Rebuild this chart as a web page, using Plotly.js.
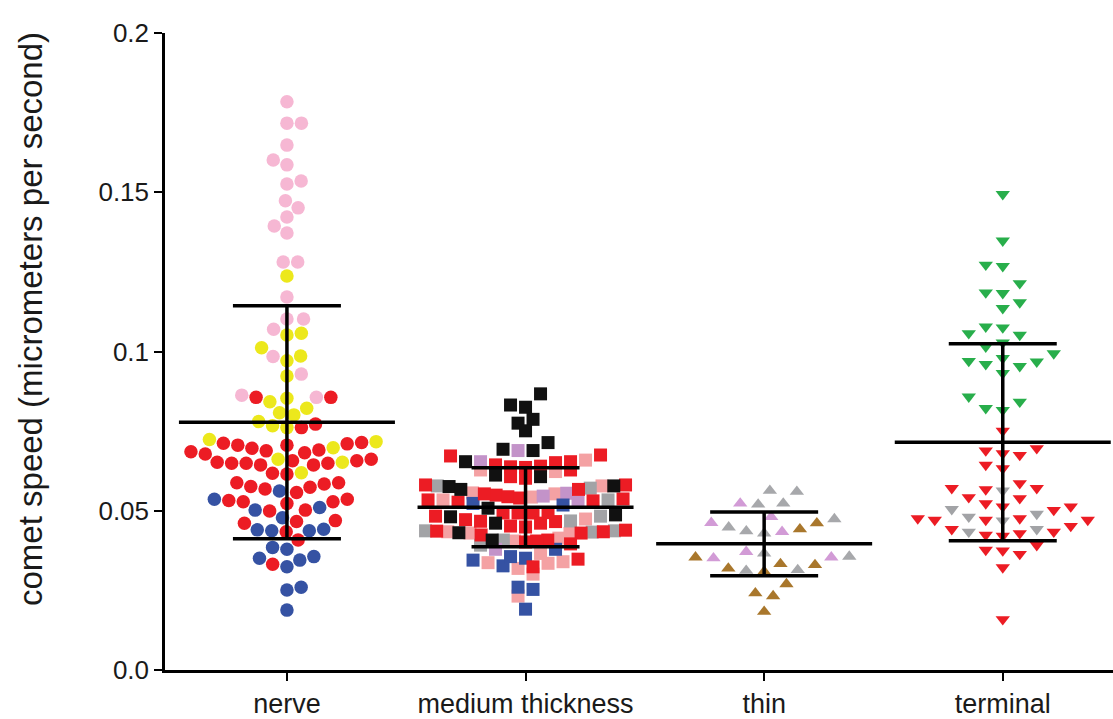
<!DOCTYPE html>
<html><head><meta charset="utf-8">
<script src="https://cdn.plot.ly/plotly-3.0.1.min.js"></script>
<style>html,body{margin:0;padding:0;background:#fff}#chart{width:1113px;height:719px}</style>
</head><body><div id="chart"></div>
<script>
const categories = ['nerve', 'medium thickness', 'thin', 'terminal'];
const yTickVals = [0, 0.05, 0.1, 0.15, 0.2];
const yTickText = ['0.0', '0.05', '0.1', '0.15', '0.2'];
const yTitle = 'comet speed (micrometers per second)';

// nerve (circles)
const nervePink = [0.1784, 0.1717, 0.1717, 0.1648, 0.1601, 0.1586, 0.1535, 0.1526, 0.1473, 0.1451, 0.1422, 0.1394, 0.1372, 0.1281, 0.1281, 0.1171, 0.1102, 0.1102, 0.1070, 0.0984, 0.0929, 0.0856, 0.0863];
const nerveYellow = [0.1237, 0.1057, 0.1052, 0.1012, 0.0986, 0.0971, 0.0923, 0.0842, 0.0853, 0.0808, 0.0822, 0.0780, 0.0801, 0.0761, 0.0767, 0.0724, 0.0717, 0.0698, 0.0652, 0.0662, 0.0619];
const nerveRed = [0.0856, 0.0856, 0.0772, 0.0761, 0.0712, 0.0710, 0.0706, 0.0706, 0.0714, 0.0691, 0.0685, 0.0678, 0.0682, 0.0688, 0.0696, 0.0644, 0.0662, 0.0657, 0.0649, 0.0649, 0.0649, 0.0652, 0.0657, 0.0644, 0.0618, 0.0615, 0.0588, 0.0588, 0.0584, 0.0574, 0.0568, 0.0576, 0.0557, 0.0532, 0.0528, 0.0523, 0.0528, 0.0536, 0.0502, 0.0499, 0.0469, 0.0461, 0.0466, 0.0434, 0.0408, 0.0332];
const nerveBlue = [0.0562, 0.0536, 0.0502, 0.0510, 0.0478, 0.0440, 0.0437, 0.0437, 0.0442, 0.0385, 0.0379, 0.0356, 0.0345, 0.0324, 0.0351, 0.0260, 0.0251, 0.0188];

// medium thickness (squares)
const medBlack = [0.0867, 0.0832, 0.0825, 0.0787, 0.0775, 0.0751, 0.0714, 0.0693, 0.0689, 0.0654, 0.0612, 0.0607, 0.0578, 0.0576, 0.0567, 0.0508, 0.0461, 0.0481, 0.0487, 0.0408, 0.0431];
const medRed = [0.0672, 0.0654, 0.0644, 0.0638, 0.0636, 0.0640, 0.0651, 0.0675, 0.0628, 0.0607, 0.0602, 0.0581, 0.0567, 0.0581, 0.0549, 0.0544, 0.0540, 0.0534, 0.0527, 0.0531, 0.0537, 0.0553, 0.0493, 0.0493, 0.0472, 0.0466, 0.0461, 0.0452, 0.0449, 0.0483, 0.0467, 0.0493, 0.0494, 0.0439, 0.0430, 0.0408, 0.0405, 0.0436, 0.0424, 0.0434, 0.0402, 0.0396, 0.0324, 0.0348];
const medPink = [0.0659, 0.0578, 0.0623, 0.0628, 0.0553, 0.0534, 0.0543, 0.0556, 0.0474, 0.0434, 0.0414, 0.0405, 0.0430, 0.0429, 0.0366, 0.0337, 0.0319, 0.0335, 0.0340, 0.0301, 0.0232];
const medGrey = [0.0571, 0.0578, 0.0534, 0.0483, 0.0468, 0.0437, 0.0433, 0.0437, 0.0408, 0.0392];
const medPurple = [0.0654, 0.0689, 0.0555, 0.0527, 0.0546, 0.0379];
const medBlue = [0.0523, 0.0518, 0.0379, 0.0351, 0.0345, 0.0327, 0.0356, 0.0260, 0.0253, 0.0191];

// thin (triangles up)
const thinGrey = [0.0563, 0.0560, 0.0520, 0.0523, 0.0474, 0.0429, 0.0436, 0.0448, 0.0366, 0.0356, 0.0314, 0.0312];
const thinPurple = [0.0523, 0.0434, 0.0462, 0.0481, 0.0351, 0.0354, 0.0371];
const thinBrown = [0.0461, 0.0442, 0.0354, 0.0330, 0.0333, 0.0309, 0.0319, 0.0270, 0.0241, 0.0232, 0.0183];

// terminal (triangles down)
const termGreen = [0.1494, 0.1348, 0.1272, 0.1268, 0.1214, 0.1185, 0.1183, 0.1154, 0.1136, 0.1078, 0.1075, 0.1052, 0.1057, 0.1015, 0.1028, 0.0994, 0.0970, 0.0960, 0.0968, 0.0979, 0.0932, 0.0954, 0.0858, 0.0842, 0.0822, 0.0816];
const termRed = [0.0751, 0.0680, 0.0696, 0.0675, 0.0689, 0.0644, 0.0633, 0.0586, 0.0571, 0.0567, 0.0571, 0.0542, 0.0539, 0.0513, 0.0502, 0.0513, 0.0523, 0.0476, 0.0471, 0.0471, 0.0471, 0.0476, 0.0452, 0.0434, 0.0424, 0.0421, 0.0429, 0.0442, 0.0392, 0.0377, 0.0364, 0.0375, 0.0322, 0.0159];
const termGrey = [0.0563, 0.0505, 0.0490, 0.0469, 0.0481, 0.0442, 0.0434];

// group summary (mean and SD)
const groupMeans = [0.0778, 0.0511, 0.0396, 0.0715];
const groupSDs = [0.0366, 0.0124, 0.0100, 0.0309];

// ---------- layout geometry ----------
const W = 1113, H = 719;
const M = {l: 165, r: 0, t: 33, b: 49};
const X_RANGE = [-0.511, 3.462];
const Y_RANGE = [0, 0.2];
const plotW = W - M.l - M.r, plotH = H - M.t - M.b;
const pxPerX = plotW / (X_RANGE[1] - X_RANGE[0]);
const pxPerY = plotH / (Y_RANGE[1] - Y_RANGE[0]);

const seriesDefs = [
  {g: 0, vals: nervePink,   color: '#f6b7d3', symbol: 'circle'},
  {g: 0, vals: nerveYellow, color: '#ece81c', symbol: 'circle'},
  {g: 0, vals: nerveRed,    color: '#ec1c24', symbol: 'circle'},
  {g: 0, vals: nerveBlue,   color: '#3552a3', symbol: 'circle'},
  {g: 1, vals: medPink,     color: '#f4a1a3', symbol: 'square'},
  {g: 1, vals: medGrey,     color: '#a2a3a6', symbol: 'square'},
  {g: 1, vals: medPurple,   color: '#c393c9', symbol: 'square'},
  {g: 1, vals: medBlue,     color: '#3552a3', symbol: 'square'},
  {g: 1, vals: medRed,      color: '#ec1c24', symbol: 'square'},
  {g: 1, vals: medBlack,    color: '#111111', symbol: 'square'},
  {g: 2, vals: thinGrey,    color: '#a7a8ab', symbol: 'triangle-up'},
  {g: 2, vals: thinPurple,  color: '#d29bd6', symbol: 'triangle-up'},
  {g: 2, vals: thinBrown,   color: '#a9772c', symbol: 'triangle-up'},
  {g: 3, vals: termGreen,   color: '#28ae4b', symbol: 'triangle-down'},
  {g: 3, vals: termGrey,    color: '#a2a3a6', symbol: 'triangle-down'},
  {g: 3, vals: termRed,     color: '#ec1c24', symbol: 'triangle-down'}
];
// swarm parameters per group
const swarmCfg = [
  {mode: 'round', d: 14.5, size: 13.5},
  {mode: 'rows', h: 15, anchor: 0.0633, s: 15, maxW: 200, size: 13},
  {mode: 'round', d: 18, size: 12.5},
  {mode: 'rect', s: 17, h: 14, size: 12.5}
];

// greedy beeswarm, rectangular collision on a half-grid (pixel space)
function swarmRect(points, s, h) {
  const order = points.slice().sort((a, b) => a.v - b.v);
  const placed = [];
  let toggle = 1;
  for (const p of order) {
    const py = p.v * pxPerY;
    const near = placed.filter(q => Math.abs(q.py - py) < h);
    let best = null;
    for (let k = 0; k < 400 && best === null; k++) {
      let cands;
      if (k === 0) cands = [0];
      else {
        const left = near.filter(q => q.x < 0).length, right = near.filter(q => q.x > 0).length;
        const side = left < right ? -1 : (right < left ? 1 : toggle);
        cands = [side * k * s / 2, -side * k * s / 2];
      }
      for (const x of cands) {
        if (near.every(q => Math.abs(q.x - x) >= s - 1e-6)) { best = x; break; }
      }
    }
    if (best > 0) toggle = -1; else if (best < 0) toggle = 1;
    p.x = best; p.py = py;
    placed.push(p);
  }
}
// greedy beeswarm, circular collision with continuous positions
function swarmRound(points, d) {
  const order = points.slice().sort((a, b) => a.v - b.v);
  const placed = [];
  let toggle = 1;
  for (const p of order) {
    const py = p.v * pxPerY;
    const near = placed.filter(q => Math.abs(q.py - py) < d);
    const cands = [0];
    near.forEach(q => {
      const dx = Math.sqrt(d * d - (q.py - py) * (q.py - py));
      cands.push(q.x + dx, q.x - dx);
    });
    const ok = cands.filter(x => near.every(q => (q.x - x) ** 2 + (q.py - py) ** 2 >= d * d - 1e-3));
    ok.sort((a, b) => {
      const da = Math.abs(a) - Math.abs(b);
      if (Math.abs(da) > 0.5) return da;
      return toggle * (b - a);
    });
    const best = ok[0];
    if (best > 0.5) toggle = -1; else if (best < -0.5) toggle = 1;
    p.x = best; p.py = py;
    placed.push(p);
  }
}
// row-binned layout (points of a value bin side by side, lowest in the middle)
function swarmRows(points, hPx, anchor, s, maxW) {
  const h = hPx / pxPerY;
  const bins = {};
  points.forEach(p => {
    const b = Math.floor((p.v - anchor) / h);
    (bins[b] = bins[b] || []).push(p);
  });
  Object.values(bins).forEach(arr => {
    arr.sort((a, b) => a.v - b.v);
    const n = arr.length;
    const sp = n > 1 ? Math.min(s, maxW / (n - 1)) : s;
    const slots = [];
    for (let k = 0; k < n; k++) slots.push((k - (n - 1) / 2) * sp);
    slots.sort((a, b) => (Math.abs(a) - Math.abs(b)) || (a - b));
    arr.forEach((p, i) => { p.x = slots[i]; });
  });
}

const traces = [];
const pointsBySeries = seriesDefs.map(() => []);
for (let g = 0; g < categories.length; g++) {
  const pts = [];
  seriesDefs.forEach((sd, si) => {
    if (sd.g !== g) return;
    sd.vals.forEach(v => { const p = {v, si}; pts.push(p); pointsBySeries[si].push(p); });
  });
  const c = swarmCfg[g];
  if (c.mode === 'round') swarmRound(pts, c.d);
  else if (c.mode === 'rows') swarmRows(pts, c.h, c.anchor, c.s, c.maxW);
  else swarmRect(pts, c.s, c.h);
}
seriesDefs.forEach((sd, si) => {
  const pts = pointsBySeries[si];
  traces.push({
    type: 'scatter', mode: 'markers',
    x: pts.map(p => sd.g + p.x / pxPerX),
    y: pts.map(p => p.v),
    cliponaxis: false,
    hoverinfo: 'y',
    marker: {symbol: sd.symbol, size: swarmCfg[sd.g].size, color: sd.color, line: {width: 0}}
  });
});

// mean and SD bars
const meanHalf = 108 / pxPerX, capHalf = 54 / pxPerX;
const lx = [], ly = [];
groupMeans.forEach((m, i) => {
  const sd = groupSDs[i];
  lx.push(i - meanHalf, i + meanHalf, null); ly.push(m, m, null);
  lx.push(i, i, null); ly.push(m - sd, m + sd, null);
  lx.push(i - capHalf, i + capHalf, null); ly.push(m + sd, m + sd, null);
  lx.push(i - capHalf, i + capHalf, null); ly.push(m - sd, m - sd, null);
});
traces.push({type: 'scatter', mode: 'lines', x: lx, y: ly, hoverinfo: 'skip',
  line: {color: '#000', width: 3.5}, cliponaxis: false});

const fontFam = '"Liberation Sans", Arial, Helvetica, sans-serif';
const layout = {
  width: W, height: H,
  margin: M,
  paper_bgcolor: '#fff', plot_bgcolor: '#fff',
  showlegend: false,
  font: {family: fontFam, color: '#1a1a1a'},
  xaxis: {
    range: X_RANGE, tickmode: 'array', tickvals: categories.map((c, i) => i), ticktext: categories,
    showgrid: false, zeroline: false, showline: true, linecolor: '#000', linewidth: 2.5,
    ticks: 'outside', ticklen: 8, tickwidth: 2, tickcolor: '#000',
    tickfont: {size: 27, family: fontFam, color: '#1a1a1a'}
  },
  yaxis: {
    range: Y_RANGE, tickmode: 'array', tickvals: yTickVals, ticktext: yTickText,
    showgrid: false, zeroline: false, showline: true, linecolor: '#000', linewidth: 2.5,
    ticks: 'outside', ticklen: 8, tickwidth: 2, tickcolor: '#000',
    tickfont: {size: 26, family: fontFam, color: '#1a1a1a'}
  },
  annotations: [{
    text: yTitle, xref: 'paper', yref: 'paper',
    x: (30 - M.l) / plotW, y: (H - M.b - 319) / plotH,
    xanchor: 'center', yanchor: 'middle', textangle: -90, showarrow: false,
    font: {size: 33, family: fontFam, color: '#1a1a1a'}
  }]
};
Plotly.newPlot('chart', traces, layout, {displayModeBar: false, responsive: false});
</script>
</body></html>
